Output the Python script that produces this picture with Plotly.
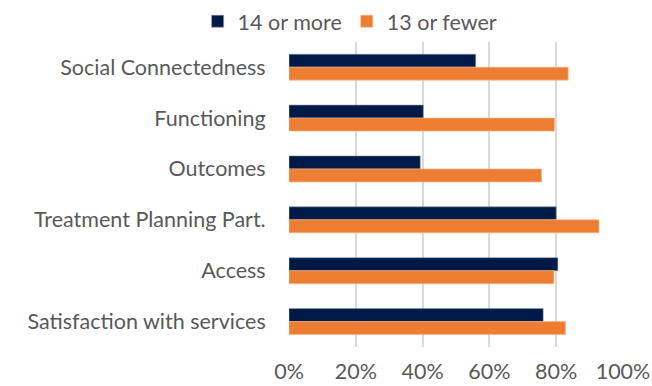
import plotly.graph_objects as go

categories = ["Social Connectedness", "Functioning", "Outcomes",
              "Treatment Planning Part.", "Access", "Satisfaction with services"]
more14 = [0.559, 0.402, 0.393, 0.800, 0.805, 0.761]
fewer13 = [0.836, 0.795, 0.756, 0.928, 0.793, 0.828]
tick_vals = [0, 0.2, 0.4, 0.6, 0.8, 1.0]
tick_text = ["0%", "20%", "40%", "60%", "80%", "100%"]

navy = "#001A48"
orange = "#ED7D31"
txt = "#595959"
font_family = "Lato, 'Open Sans', sans-serif"
fs = 21.5

fig = go.Figure()
fig.add_trace(go.Bar(y=categories, x=more14, name="14 or more", orientation="h",
                     marker=dict(color=navy, line=dict(color="#8a93a8", width=0.6))))
fig.add_trace(go.Bar(y=categories, x=fewer13, name="13 or fewer", orientation="h",
                     marker=dict(color=orange, line=dict(color="#f5b88e", width=0.6))))

fig.update_layout(
    width=652, height=386,
    margin=dict(l=289, r=29, t=38, b=39),
    paper_bgcolor="white", plot_bgcolor="white",
    barmode="group", bargap=0.49, bargroupgap=0,
    font=dict(family=font_family, size=fs, color=txt),
    showlegend=True,
    legend=dict(orientation="h", xref="container", yref="container",
                x=0.537, y=0.945, xanchor="center", yanchor="middle",
                font=dict(size=fs, color=txt), itemwidth=30,
                traceorder="normal"),
    xaxis=dict(range=[0, 1], tickvals=tick_vals, ticktext=tick_text,
               showgrid=True, gridcolor="#d9d9d9", gridwidth=1.5,
               zeroline=False, showline=False, automargin=False,
               ticks="outside", ticklen=5, tickcolor="rgba(0,0,0,0)",
               tickfont=dict(size=fs, color=txt)),
    yaxis=dict(autorange="reversed", showgrid=False, zeroline=False,
               showline=False, automargin=False, ticks="outside", ticklen=18,
               tickcolor="rgba(0,0,0,0)",
               tickfont=dict(size=fs, color=txt)),
)

fig.write_html("out.html")
